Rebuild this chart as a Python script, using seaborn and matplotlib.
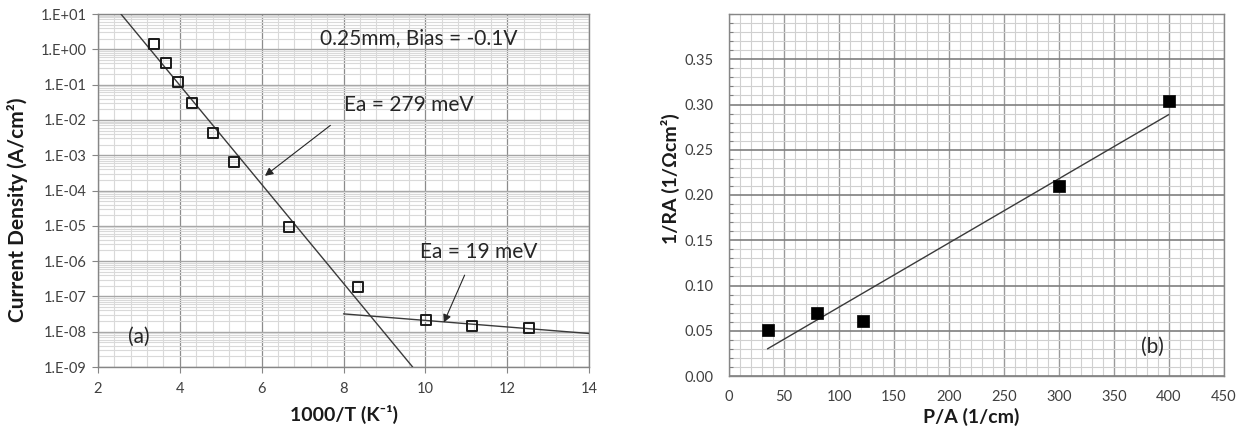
import numpy as np
import pandas as pd
import matplotlib
matplotlib.use("Agg")
import matplotlib.pyplot as plt
import matplotlib.ticker as mticker
import seaborn as sns

# ---------------- data ----------------
# panel (a): Arrhenius plot
inv_T = [3.38, 3.66, 3.96, 4.30, 4.82, 5.33, 6.67, 8.35, 10.02, 11.13, 12.53]
current_density = [1.45, 0.41, 0.12, 0.030, 0.0043, 0.00065, 9.0e-6, 1.85e-7, 2.2e-8, 1.45e-8, 1.25e-8]
fit1_x = [2.56, 9.69]
fit1_y = [1e1, 1e-9]
fit2_x = [8.0, 14.0]
fit2_y = [3.2e-8, 8.9e-9]

# panel (b): 1/RA vs P/A
p_over_a = [35, 80, 122, 300, 400]
inv_ra = [0.051, 0.070, 0.061, 0.210, 0.304]
fitb_x = [35, 400]
fitb_y = [0.030, 0.289]

a_xticks = [2, 4, 6, 8, 10, 12, 14]
b_xticks = [0, 50, 100, 150, 200, 250, 300, 350, 400, 450]
b_yticks = [0.00, 0.05, 0.10, 0.15, 0.20, 0.25, 0.30, 0.35]

# ---------------- style ----------------
sns.set_theme(style="white")
plt.rcParams['font.family'] = ['Lato', 'DejaVu Sans']
plt.rcParams['axes.edgecolor'] = '#868686'
plt.rcParams['axes.linewidth'] = 1.0

fig = plt.figure(figsize=(12.45, 4.29), dpi=100)
axa = fig.add_axes([98/1245, 1-367/429, (589-98)/1245, (367-14)/429])
axb = fig.add_axes([729/1245, 1-376/429, (1224-729)/1245, (376-14)/429])

tick_color = '#404040'
text_color = '#262626'

# ---------------- panel (a) ----------------
dfa = pd.DataFrame({'x': inv_T, 'y': current_density})
axa.set_yscale('log')
axa.set_xlim(2, 14)
axa.set_ylim(1e-9, 1e1)
axa.set_xticks(a_xticks)
axa.xaxis.set_minor_locator(mticker.MultipleLocator(0.4))
axa.yaxis.set_major_locator(mticker.LogLocator(base=10, numticks=20))
axa.yaxis.set_minor_locator(mticker.LogLocator(base=10, subs=np.arange(2, 10), numticks=20))
axa.yaxis.set_major_formatter(mticker.FuncFormatter(lambda v, p: "1.E%+03d" % int(round(np.log10(v)))))
axa.yaxis.set_minor_formatter(mticker.NullFormatter())
axa.grid(which='major', axis='y', color='#a6a6a6', lw=1.0)
axa.grid(which='minor', axis='y', color='#d9d9d9', lw=0.8)
axa.grid(which='major', axis='x', color='#8c8c8c', lw=0.9)
axa.grid(which='minor', axis='x', color='#d9d9d9', lw=0.8)
axa.set_axisbelow(True)

sns.lineplot(x=fit1_x, y=fit1_y, ax=axa, color='#3a3a3a', lw=1.0, zorder=3)
sns.lineplot(x=fit2_x, y=fit2_y, ax=axa, color='#3a3a3a', lw=1.0, zorder=3)
sns.scatterplot(data=dfa, x='x', y='y', ax=axa, marker='s', s=52,
                facecolor='none', edgecolor='#1a1a1a', linewidth=1.4, zorder=4)

axa.tick_params(axis='both', which='major', direction='out', length=4, width=0.8,
                color='#868686', labelsize=10.5, labelcolor=tick_color, left=True, bottom=True)
axa.tick_params(axis='x', which='major', pad=7)
axa.tick_params(axis='y', which='major', pad=4)
axa.tick_params(axis='both', which='minor', length=0)
axa.set_xlabel('1000/T (K⁻¹)', fontsize=14, fontweight='bold', color='#1a1a1a')
axa.set_ylabel('Current Density (A/cm²)', fontsize=15, fontweight='bold', color='#1a1a1a')
axa.xaxis.set_label_coords(0.5, -0.108)
axa.yaxis.set_label_coords(-0.143, 0.445)

axa.text(7.43, 2.1, '0.25mm, Bias = -0.1V', fontsize=15, color=text_color, va='center')
axa.text(8.0, 0.026, 'Ea = 279 meV', fontsize=15, color=text_color, va='center')
axa.text(9.88, 1.85e-6, 'Ea = 19 meV', fontsize=15, color=text_color, va='center')
axa.text(2.74, 7.2e-9, '(a)', fontsize=15, color=text_color, va='center')
arrow = dict(arrowstyle='-|>', color=text_color, lw=0.8, mutation_scale=12, shrinkA=0, shrinkB=0)
axa.annotate('', xy=(6.08, 2.6e-4), xytext=(7.68, 7e-3), arrowprops=arrow)
axa.annotate('', xy=(10.45, 1.8e-8), xytext=(10.96, 4e-7), arrowprops=arrow)

# ---------------- panel (b) ----------------
dfb = pd.DataFrame({'x': p_over_a, 'y': inv_ra})
axb.set_xlim(0, 450)
axb.set_ylim(0, 0.4)
axb.set_xticks(b_xticks)
axb.set_yticks(b_yticks)
axb.xaxis.set_minor_locator(mticker.MultipleLocator(10))
axb.yaxis.set_minor_locator(mticker.MultipleLocator(0.01))
axb.yaxis.set_major_formatter(mticker.FormatStrFormatter('%.2f'))
axb.grid(which='major', axis='y', color='#7f7f7f', lw=1.2)
axb.grid(which='major', axis='x', color='#9a9a9a', lw=1.0)
axb.grid(which='minor', axis='both', color='#d0d0d0', lw=0.8)
axb.set_axisbelow(True)

sns.lineplot(x=fitb_x, y=fitb_y, ax=axb, color='#3a3a3a', lw=1.0, zorder=3)
sns.scatterplot(data=dfb, x='x', y='y', ax=axb, marker='s', s=64,
                color='black', edgecolor='black', linewidth=0.5, zorder=4)

axb.tick_params(axis='both', which='major', length=0, labelsize=10.5,
                labelcolor=tick_color)
axb.tick_params(axis='x', which='major', pad=10)
axb.tick_params(axis='y', which='major', pad=11)
axb.tick_params(axis='y', which='minor', direction='in', length=3, width=0.8,
                color='#808080', left=True)
axb.set_xlabel('P/A (1/cm)', fontsize=14, fontweight='bold', color='#1a1a1a')
axb.set_ylabel('1/RA (1/Ωcm²)', fontsize=14, fontweight='bold', color='#1a1a1a')
axb.xaxis.set_label_coords(0.49, -0.088)
axb.yaxis.set_label_coords(-0.099, 0.546)
axb.text(375, 0.032, '(b)', fontsize=15, color=text_color, va='center')

fig.savefig('out.png', dpi=100)
